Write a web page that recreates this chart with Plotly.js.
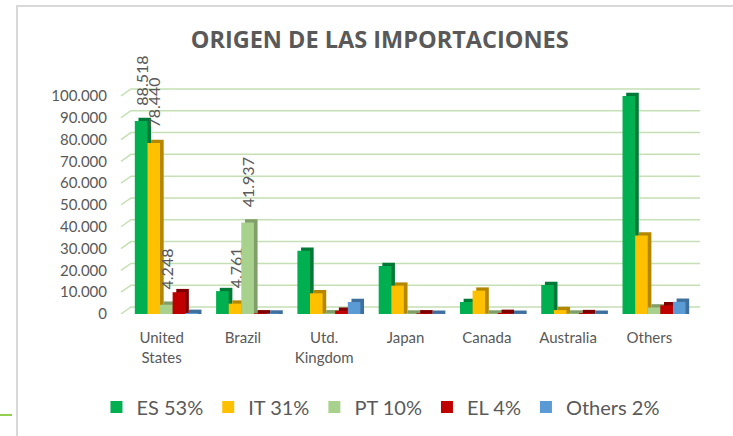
<!DOCTYPE html>
<html>
<head>
<meta charset="utf-8">
<script src="https://cdn.plot.ly/plotly-3.0.1.min.js"></script>
<style>
  html, body { margin: 0; padding: 0; background: #fff; }
  #wrap { position: relative; width: 733px; height: 436px; overflow: hidden; }
  #chart { width: 733px; height: 436px; }
  .deco { position: absolute; pointer-events: none; }
</style>
</head>
<body>
<div id="wrap">
  <div id="chart"></div>
  <div class="deco" style="left:16px; top:5px; width:717px; height:2px; background:#d9d9d9;"></div>
  <div class="deco" style="left:16px; top:5px; width:2px; height:431px; background:#d9d9d9;"></div>
  <div class="deco" style="left:0px; top:414px; width:12px; height:2px; background:#92d050;"></div>
</div>
<script>
// ---- data ----
const categories = ['United<br>States', 'Brazil', 'Utd.<br>Kingdom', 'Japan', 'Canada', 'Australia', 'Others'];
const seriesNames = ['ES 53%', 'IT 31%', 'PT 10%', 'EL 4%', 'Others 2%'];
const ES = [88518, 10500, 29000, 22000, 5500, 13300, 100000];
const IT = [78440, 4761, 9500, 13000, 10700, 1800, 36000];
const PT = [4248, 41937, 300, 200, 200, 200, 3000];
const EL = [10000, 300, 1500, 300, 500, 400, 4000];
const OT = [500, 200, 5500, 100, 100, 100, 5600];
const labelsES = ['88.518', '', '', '', '', '', ''];
const labelsIT = ['78.440', '4.761', '', '', '', '', ''];
const labelsPT = ['4.248', '41.937', '', '', '', '', ''];
const labelsEL = ['', '', '', '', '', '', ''];
const labelsOT = ['', '', '', '', '', '', ''];
const yTickVals = [0, 10000, 20000, 30000, 40000, 50000, 60000, 70000, 80000, 90000, 100000];

// ---- styling ----
const frontColors = ['#00b050', '#ffc000', '#a9d18e', '#c00000', '#5b9bd5'];
const sideColors  = ['#007a36', '#b38700', '#7f9e69', '#7f0000', '#3f6f9c'];
const allValues = [ES, IT, PT, EL, OT];
const allLabels = [labelsES, labelsIT, labelsPT, labelsEL, labelsOT];

const barW = 0.155, startOff = -0.33, depthX = 0.045, depthY = 1500;
const pad = '\u00a0\u00a0\u00a0';

const traces = [];
allValues.forEach((vals, i) => {
  const off = startOff + i * barW;
  // side/top face (pseudo 3D)
  traces.push({
    type: 'bar', x: categories, y: vals.map(v => v + depthY),
    offset: off + depthX, width: barW,
    marker: { color: sideColors[i] },
    showlegend: false, hoverinfo: 'skip', textposition: 'none'
  });
  // front face
  traces.push({
    type: 'bar', x: categories, y: vals, name: seriesNames[i],
    offset: off, width: barW,
    marker: { color: frontColors[i] },
    text: allLabels[i].map(t => t ? pad + t : ''),
    textposition: 'outside', textangle: -90, constraintext: 'none',
    cliponaxis: false,
    textfont: { family: 'Lato, sans-serif', size: 16, color: '#595959' },
    hoverinfo: 'skip'
  });
});

// back-wall gridlines with perspective stub
const plotTop = 85, plotBottom = 314, yMax = 105000;
const plotH = plotBottom - plotTop;
const offY = 7 * yMax / plotH;
const plotL = 121, plotR = 690;
const plotW = plotR - plotL;
const stubX = 10 / plotW, backR = 1 + 10 / plotW;
const shapes = yTickVals.map(v => ({
  type: 'path', xref: 'paper', yref: 'y', layer: 'below',
  path: `M 0,${v} L ${stubX},${v + offY} L ${backR},${v + offY}`,
  line: { color: 'rgb(197,224,180)', width: 1.5 }
}));

const layout = {
  width: 733, height: 436,
  margin: { l: plotL, r: 733 - plotR, t: plotTop, b: 436 - plotBottom },
  paper_bgcolor: 'rgba(0,0,0,0)', plot_bgcolor: 'rgba(0,0,0,0)',
  separators: ',.',
  barmode: 'overlay',
  hovermode: false,
  title: {
    text: '<b>ORIGEN DE LAS IMPORTACIONES</b>',
    font: { family: 'Open Sans, sans-serif', size: 23.5, color: '#595959' },
    xref: 'container', x: 0.518, xanchor: 'center',
    yref: 'container', y: 1 - 40 / 436, yanchor: 'middle'
  },
  xaxis: {
    type: 'category', range: [-0.5, 6.5], automargin: false,
    showgrid: false, zeroline: false, showline: false, ticks: '',
    tickfont: { family: 'Lato, sans-serif', size: 15, color: '#595959' },
    ticklabelstandoff: 13
  },
  yaxis: {
    range: [0, yMax], tickvals: yTickVals, tickformat: ',d', automargin: false,
    showgrid: false, zeroline: false, showline: false, ticks: '',
    tickfont: { family: 'Lato, sans-serif', size: 15, color: '#595959' },
    ticklabelstandoff: 13
  },
  legend: {
    orientation: 'h', x: 0.456, xanchor: 'center',
    yref: 'container', y: 1 - 407 / 436, yanchor: 'middle',
    font: { family: 'Lato, sans-serif', size: 20, color: '#595959' },
    bgcolor: 'rgba(0,0,0,0)'
  },
  shapes: shapes,
  showlegend: true
};

Plotly.newPlot('chart', traces, layout, { displayModeBar: false, staticPlot: true });
</script>
</body>
</html>
